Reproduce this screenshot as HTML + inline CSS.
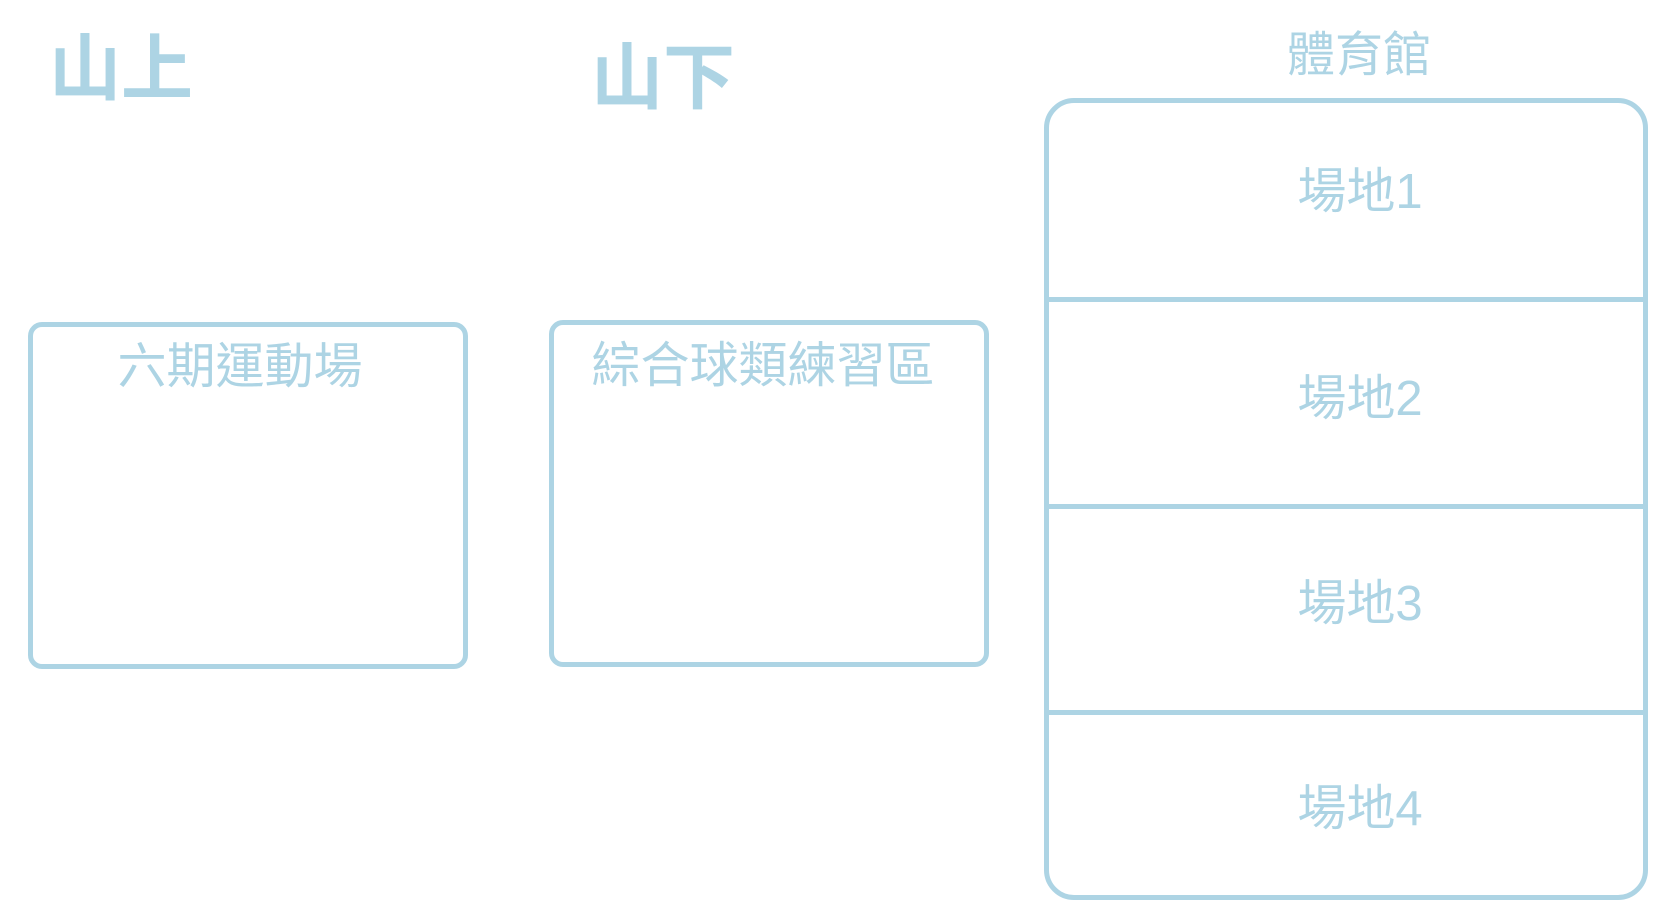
<!DOCTYPE html>
<html><head><meta charset="utf-8"><style>
body{margin:0;width:1666px;height:901px;background:#fff;position:relative;overflow:hidden;font-family:"Liberation Sans","Noto Sans CJK TC",sans-serif;color:#add4e4}
.t{position:absolute;white-space:nowrap;line-height:1}
.b{position:absolute;border:5px solid #add4e4;box-sizing:border-box}
</style></head><body>
<div class="t" style="left:49px;top:34px;font-size:72px;font-weight:bold">山上</div>
<div class="t" style="left:591px;top:43px;font-size:72px;font-weight:bold">山下</div>
<div class="t" style="left:1287px;top:32px;font-size:48px">體育館</div>
<div class="b" style="left:28px;top:322px;width:440px;height:347px;border-radius:14px"></div>
<div class="t" style="left:20px;width:440px;text-align:center;top:343px;font-size:49px">六期運動場</div>
<div class="b" style="left:549px;top:320px;width:440px;height:347px;border-radius:14px"></div>
<div class="t" style="left:543px;width:440px;text-align:center;top:342px;font-size:49px">綜合球類練習區</div>
<div class="b" style="left:1044px;top:98px;width:604px;height:802px;border-radius:30px"></div>
<div style="position:absolute;left:1044px;width:604px;top:297px;height:5px;background:#add4e4"></div>
<div style="position:absolute;left:1044px;width:604px;top:504px;height:5px;background:#add4e4"></div>
<div style="position:absolute;left:1044px;width:604px;top:710px;height:5px;background:#add4e4"></div>
<div class="t" style="left:1058px;width:604px;text-align:center;top:168px;font-size:49px">場地1</div>
<div class="t" style="left:1058px;width:604px;text-align:center;top:375px;font-size:49px">場地2</div>
<div class="t" style="left:1058px;width:604px;text-align:center;top:580px;font-size:49px">場地3</div>
<div class="t" style="left:1058px;width:604px;text-align:center;top:785px;font-size:49px">場地4</div>
</body></html>
